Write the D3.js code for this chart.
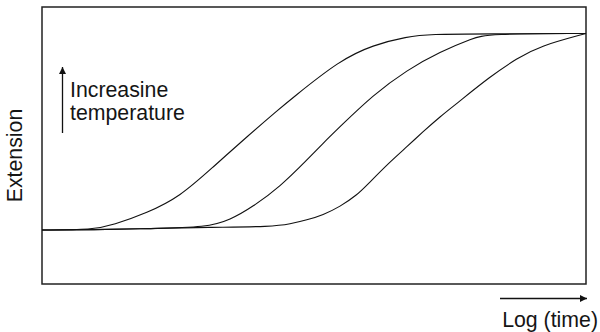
<!DOCTYPE html>
<html>
<head>
<meta charset="utf-8">
<script src="https://cdn.jsdelivr.net/npm/d3@7"></script>
<style>
  html, body { margin: 0; padding: 0; background: #fff; }
  svg text { font-family: "Liberation Sans", Arial, Helvetica, sans-serif; fill: #151515; }
</style>
</head>
<body>
<svg id="chart" width="600" height="332"></svg>
<script>
// Creep curves: extension against log(time), one curve per temperature (relative units)
const curveNames = ["high", "medium", "low"];

const highT_x = [0, 9.4, 13.05, 19.3, 25.37, 31.43, 37.68, 43.75, 45.59, 54.78, 60.85, 67.1, 71.32, 81.8, 100];
const highT_y = [19.5, 19.55, 21.3, 25.63, 31.52, 42.2, 53.18, 63.43, 66.43, 80.87, 86.28, 89.28, 90.2, 90.3, 90.43];

const medT_x = [0, 9.4, 20.0, 30.33, 34.56, 38.79, 43.75, 48.71, 51.65, 54.78, 60.85, 67.1, 73.16, 79.23, 81.8, 100];
const medT_y = [19.5, 19.55, 20.0, 20.47, 23.1, 27.91, 35.13, 44.77, 50.79, 56.79, 68.23, 77.26, 83.86, 88.7, 90.3, 90.43];

const lowT_x = [0, 9.4, 20.0, 30.33, 42.46, 45.59, 48.71, 51.65, 54.78, 57.9, 59.74, 63.97, 67.1, 70.04, 73.16, 76.29, 82.35, 87.32, 91.54, 100];
const lowT_y = [19.5, 19.55, 20.0, 20.47, 20.69, 21.66, 23.1, 24.91, 27.91, 32.13, 35.74, 44.15, 49.57, 54.98, 60.4, 65.23, 74.84, 81.48, 85.92, 90.43];

const axisLabelY = "Extension";
const axisLabelX = "Log (time)";
const noteLines = ["Increasine", "temperature"];

const series = [
  { name: curveNames[0], x: highT_x, y: highT_y },
  { name: curveNames[1], x: medT_x, y: medT_y },
  { name: curveNames[2], x: lowT_x, y: lowT_y }
];

const svg = d3.select("#chart");
const plot = { left: 42, right: 586, top: 7, bottom: 284 };
const fontSize = 21.3;

const x = d3.scaleLinear().domain([0, 100]).range([plot.left, plot.right]);
const y = d3.scaleLinear().domain([0, 100]).range([plot.bottom, plot.top]);

const defs = svg.append("defs");
defs.append("marker")
  .attr("id", "head")
  .attr("viewBox", "0 0 10 10")
  .attr("refX", 10).attr("refY", 5)
  .attr("markerWidth", 10).attr("markerHeight", 7)
  .attr("markerUnits", "userSpaceOnUse")
  .attr("orient", "auto")
  .append("path")
  .attr("d", "M0,0 L10,5 L0,10 Z")
  .attr("fill", "#111");

// Frame
svg.append("rect")
  .attr("x", plot.left).attr("y", plot.top)
  .attr("width", plot.right - plot.left).attr("height", plot.bottom - plot.top)
  .attr("fill", "none").attr("stroke", "#222").attr("stroke-width", 1.5);

// Curves (B-spline smoothing through the sampled points)
const line = d3.line()
  .x(d => x(d[0]))
  .y(d => y(d[1]))
  .curve(d3.curveBasis);

svg.append("g").selectAll("path")
  .data(series)
  .join("path")
  .attr("d", s => line(s.x.map((v, i) => [v, s.y[i]])))
  .attr("fill", "none")
  .attr("stroke", "#111")
  .attr("stroke-width", 1.1);

// Y axis label
svg.append("text")
  .attr("transform", `translate(21.5,${(108 + 203) / 2}) rotate(-90)`)
  .attr("text-anchor", "middle")
  .attr("font-size", fontSize)
  .text(axisLabelY);

// X axis arrow and label
svg.append("line")
  .attr("x1", 500).attr("y1", 298.5)
  .attr("x2", 587).attr("y2", 298.5)
  .attr("stroke", "#111").attr("stroke-width", 1.3)
  .attr("marker-end", "url(#head)");

svg.append("text")
  .attr("x", 598).attr("y", 326.5)
  .attr("text-anchor", "end")
  .attr("font-size", fontSize)
  .text(axisLabelX);

// Temperature note with upward arrow
svg.append("line")
  .attr("x1", 62.5).attr("y1", 133)
  .attr("x2", 62.5).attr("y2", 67)
  .attr("stroke", "#111").attr("stroke-width", 1.3)
  .attr("marker-end", "url(#head)");

svg.append("g").selectAll("text")
  .data(noteLines)
  .join("text")
  .attr("x", 70)
  .attr("y", (d, i) => 96.5 + i * 23.5)
  .attr("font-size", fontSize)
  .text(d => d);
</script>
</body>
</html>
